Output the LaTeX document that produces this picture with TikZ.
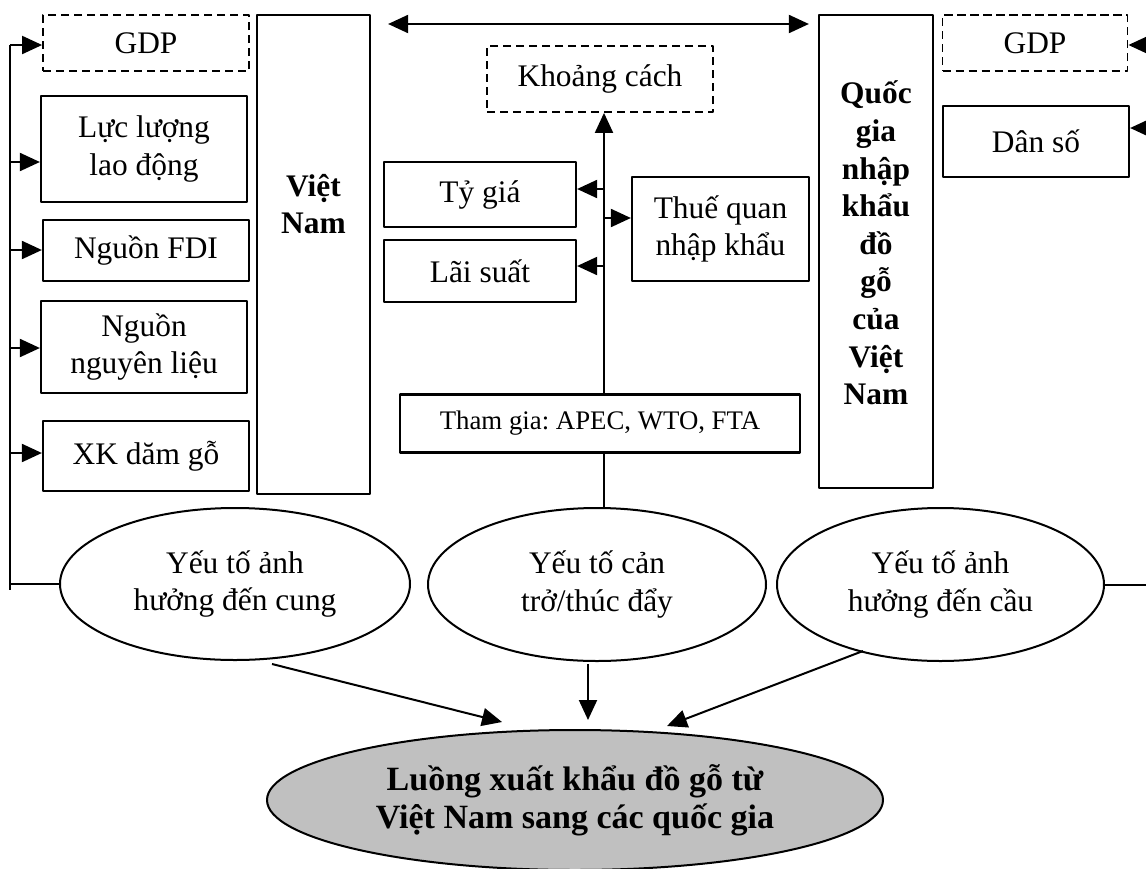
\documentclass[tikz,border=0pt]{standalone}
\usepackage{fontspec}
\setmainfont{Liberation Serif}
\usetikzlibrary{arrows.meta,shapes.geometric}
\frenchspacing

\begin{document}
\begin{tikzpicture}[line join=round, x=0.5pt, y=-0.5pt,
    box/.style={draw, line width=1.1pt, fill=white, align=center, inner sep=0pt, font=\fontsize{15.7}{18.8}\selectfont},
    dbox/.style={box, line width=0.9pt, dash pattern=on 4.2pt off 2.3pt},
    oval/.style={ellipse, draw, line width=1pt, fill=white, align=center, inner sep=0pt, font=\fontsize{15.7}{18.8}\selectfont},
    bold/.style={align=center, inner sep=0pt, font=\fontsize{15.7}{18.8}\selectfont\bfseries},
    arr/.style={-{Triangle[length=10pt,width=9pt]}, line width=1pt}]
  \useasboundingbox (0,0) rectangle (1146,868);
  \node[dbox, minimum width=103pt, minimum height=28pt] (gdpL) at (146,43) {GDP};
  \node[box, minimum width=103pt, minimum height=53pt] (lao) at (144,149) {Lực lượng\\lao động};
  \node[box, minimum width=103pt, minimum height=30.5pt] (fdi) at (146,250.5) {Nguồn FDI};
  \node[box, minimum width=103pt, minimum height=46pt] (nl) at (144,347) {Nguồn\\nguyên liệu};
  \node[box, minimum width=103pt, minimum height=35pt] (xk) at (146,456) {XK dăm gỗ};
  \node[box, minimum width=56.5pt, minimum height=239.5pt] (vn) at (313.5,254.5) {};
  \node[bold] at (313.5,204) {Việt\\Nam};
  \node[box, minimum width=57pt, minimum height=236.5pt] (qg) at (876,251.5) {};
  \node[bold] at (876,243) {Quốc\\gia\\nhập\\khẩu\\đồ\\gỗ\\của\\Việt\\Nam};
  \node[dbox, minimum width=92.5pt, minimum height=28pt] (gdpR) at (1035,43) {GDP};
  \node[box, minimum width=93pt, minimum height=35.5pt] (ds) at (1036,141.5) {Dân số};
  \node[dbox, minimum width=113pt, minimum height=33pt] (kc) at (600,79) {Khoảng cách};
  \node[box, minimum width=96pt, minimum height=32.5pt] (ty) at (480,194.5) {Tỷ giá};
  \node[box, minimum width=96pt, minimum height=31pt] (ls) at (480,271) {Lãi suất};
  \node[box, minimum width=88.5pt, minimum height=52pt] (tq) at (720.5,229) {Thuế quan\\nhập khẩu};
  \node[box, minimum width=200pt, minimum height=29pt, font=\fontsize{13.4}{16}\selectfont] (tg) at (600,423.5) {Tham gia: APEC, WTO, FTA};
  \node[oval, minimum width=175pt, minimum height=76pt] (supL) at (235,584) {Yếu tố ảnh\\hưởng đến cung};
  \node[oval, minimum width=169pt, minimum height=76.5pt] (mid) at (597,584.5) {Yếu tố cản\\trở/thúc đẩy};
  \node[oval, minimum width=163.5pt, minimum height=76.5pt] (supR) at (940.5,584.5) {Yếu tố ảnh\\hưởng đến cầu};
  \node[oval, minimum width=308pt, minimum height=70pt, fill={rgb,255:red,192;green,192;blue,192}, font=\fontsize{17}{19}\selectfont\bfseries] (flow) at (575,800) {Luồng xuất khẩu đồ gỗ từ\\Việt Nam sang các quốc gia};
  \coordinate (topL) at ([xshift=8.5pt]vn.north east);
  \coordinate (topR) at ([xshift=-4.5pt]qg.north west);
  \coordinate (spine) at (604,508);
  \draw[line width=1pt] (10,45) -- (10,590);
  \draw[line width=1pt] (supL.west) -- (supL.west -| 10,0);
  \foreach \b/\yy in {gdpL/45, lao/162, fdi/250, nl/348, xk/453}
    \draw[arr] (10,\yy) -- (\b.west |- 0,\yy);
  \foreach \b/\yy in {gdpR/45, ds/128}
    \draw[arr] (1146,\yy) -- (\b.east |- 0,\yy);
  \draw[line width=1pt] (supR.east) -- (supR.east -| 1146,0);
  \draw[{Triangle[length=10pt,width=9pt]}-{Triangle[length=10pt,width=9pt]}, line width=1pt] (topL |- 0,24) -- (topR |- 0,24);
  \draw[line width=1pt] (spine) -- (spine |- tg.south);
  \draw[arr] (spine |- tg.north) -- (spine |- kc.south);
  \foreach \b/\yy in {ty/189, ls/266}
    \draw[arr] (604,\yy) -- (\b.east |- 0,\yy);
  \draw[arr] (604,218) -- (tq.west |- 0,218);
  \draw[arr] ([xshift=18.5pt,yshift=-1.5pt]supL.south) -- ([xshift=-36.5pt,yshift=3.5pt]flow.north);
  \draw[arr] ([xshift=-4.5pt,yshift=-1pt]mid.south) -- ([xshift=6.5pt,yshift=4.5pt]flow.north);
  \draw[arr] ([xshift=-38.75pt,yshift=5.5pt]supR.south) -- ([xshift=46pt,yshift=1.5pt]flow.north);
\end{tikzpicture}
\end{document}
